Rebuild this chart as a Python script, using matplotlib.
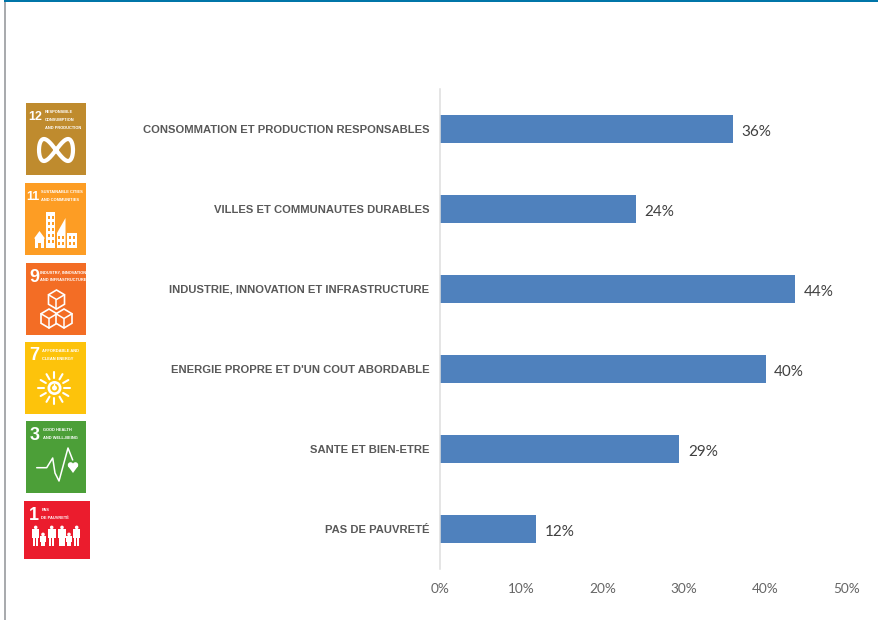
import numpy as np
import matplotlib
matplotlib.use('Agg')
import matplotlib.pyplot as plt
from matplotlib.patches import Rectangle, Polygon, Circle
from matplotlib.ticker import FuncFormatter

categories = ['PAS DE PAUVRETÉ', 'SANTE ET BIEN-ETRE', "ENERGIE PROPRE ET D'UN COUT ABORDABLE",
              'INDUSTRIE, INNOVATION ET INFRASTRUCTURE', 'VILLES ET COMMUNAUTES DURABLES',
              'CONSOMMATION ET PRODUCTION RESPONSABLES']
values = [11.8, 29.4, 40.0, 43.6, 24.1, 36.0]
value_labels = ['12%', '29%', '40%', '44%', '24%', '36%']
ticks = [0, 10, 20, 30, 40, 50]

W, H = 879, 620
fig = plt.figure(figsize=(W / 100, H / 100), dpi=100)
fig.patch.set_facecolor('white')

# chart axes, placed in pixels
ax = fig.add_axes([440 / W, 1 - 569 / H, (847 - 440) / W, (569 - 89) / H])
y = np.arange(len(categories))
ax.barh(y, values, height=0.35, color='#4F81BD')
ax.set_xlim(0, 50)
ax.set_ylim(-0.5, 5.5)
ax.set_yticks(y)
ax.set_yticklabels(categories, family='Liberation Sans', fontweight='bold', fontsize=8.15, color='#595959')
ax.set_xticks(ticks)
ax.xaxis.set_major_formatter(FuncFormatter(lambda v, p: f'{v:.0f}%'))
ax.tick_params(axis='x', length=0, pad=10, labelsize=9.8, labelcolor='#666666')
ax.tick_params(axis='y', length=0, pad=7.5)
for lab in ax.get_xticklabels():
    lab.set_family('Lato')
for s in ['top', 'right', 'bottom']:
    ax.spines[s].set_visible(False)
ax.spines['left'].set_color('#DEDEDE')
ax.spines['left'].set_linewidth(1.1)
for yy, v, t in zip(y, values, value_labels):
    ax.annotate(t, (v, yy), xytext=(6.2, -2), textcoords='offset points', va='center',
                family='Lato', fontsize=11, color='#404040')

# overlay in pixel coordinates for the frame and the SDG icons
ov = fig.add_axes([0, 0, 1, 1], zorder=5)
ov.set_xlim(0, W)
ov.set_ylim(H, 0)
ov.axis('off')
ov.patch.set_alpha(0)

ov.add_patch(Rectangle((4, 0), 2, H, color='#A9ABAE', lw=0))
ov.add_patch(Rectangle((4, 0), W - 4, 2.2, color='#0075A8', lw=0))


def icon(x0, y0, x1, y1, color, num, lines, numx, tx):
    ov.add_patch(Rectangle((x0, y0), x1 - x0, y1 - y0, color=color, lw=0))
    ov.text(numx, y0 + 14, num, color='white', family='Liberation Sans', fontweight='bold',
            fontsize=9 if len(num) > 1 else 13, ha='center', va='center')
    for i, ln in enumerate(lines):
        ov.text(tx, y0 + 9 + i * 8, ln, color='white', family='Liberation Sans', fontweight='bold',
                fontsize=2.9, ha='left', va='center')


def wline(xs, ys, lw=1.4):
    ov.plot(xs, ys, color='white', lw=lw, solid_capstyle='round', solid_joinstyle='round')


def wbox(x, y_, w, h):
    ov.add_patch(Rectangle((x, y_), w, h, color='white', lw=0))


# 12 - infinity loop
icon(26, 103, 86, 175, '#BF8B2E', '12', ['RESPONSIBLE', 'CONSUMPTION', 'AND PRODUCTION'], 35, 45)
t = np.linspace(0, 2 * np.pi, 200)
wline(56 + 17 * np.cos(t), 150 + 11 * np.sin(2 * t), lw=3)

# 11 - buildings
icon(25, 183, 86, 255, '#FD9D24', '11', ['SUSTAINABLE CITIES', 'AND COMMUNITIES'], 33, 41)
wbox(46, 212, 9, 36)
ov.add_patch(Polygon([[57, 233], [65.5, 218], [65.5, 248], [57, 248]], color='white', lw=0))
wbox(67, 233, 10, 15)
wbox(35, 238, 9, 10)
ov.add_patch(Polygon([[34, 238.5], [39.5, 231], [45, 238.5]], color='white', lw=0))
ov.add_patch(Rectangle((38, 243), 3, 5, color='#FD9D24', lw=0))
for wy in [216, 222, 228, 234, 240]:
    for wx in [48, 52]:
        ov.add_patch(Rectangle((wx, wy), 2, 3, color='#FD9D24', lw=0))
for wy in [236, 242]:
    for wx in [58.5, 62, 69, 73]:
        ov.add_patch(Rectangle((wx, wy), 2, 3, color='#FD9D24', lw=0))

# 9 - stacked cubes
icon(26, 263, 86, 335, '#F36D25', '9', ['INDUSTRY, INNOVATION', 'AND INFRASTRUCTURE'], 34.5, 40)
for cx, cy in [(56.5, 295.7), (49, 314.7), (64, 314.7)]:
    s, v = 8, 9.5
    hex_x = [cx, cx + s, cx + s, cx, cx - s, cx - s, cx]
    hex_y = [cy - v * .6, cy - v * .1, cy + v * .9, cy + v * 1.4, cy + v * .9, cy - v * .1, cy - v * .6]
    ov.add_patch(Polygon(np.c_[hex_x, hex_y], fc='#F36D25', ec='white', lw=1.2))
    wline([cx - s, cx, cx + s], [cy - v * .1, cy + v * .4, cy - v * .1], lw=1.1)
    wline([cx, cx], [cy + v * .4, cy + v * 1.4], lw=1.1)

# 7 - sun with power button
icon(25, 342, 86, 414, '#FDC30B', '7', ['AFFORDABLE AND', 'CLEAN ENERGY'], 34.5, 42.5)
cx, cy = 54.5, 388
ov.add_patch(Circle((cx, cy), 7, color='white', lw=0))
ov.add_patch(Circle((cx, cy), 3.4, fc='none', ec='#FDC30B', lw=1.3))
wline([cx, cx], [cy - 4.5, cy - 1], lw=1)
for ang in np.arange(0, 360, 30):
    a = np.deg2rad(ang)
    r0, r1 = 10, 16
    wline([cx + r0 * np.cos(a), cx + r1 * np.cos(a)], [cy + r0 * np.sin(a), cy + r1 * np.sin(a)], lw=1.5)

# 3 - heartbeat
icon(26, 421, 86, 493, '#4C9F38', '3', ['GOOD HEALTH', 'AND WELL-BEING'], 35, 43)
wline([36.7, 46.7, 52.7, 55, 59, 68, 72.7], [467.7, 467.7, 458, 473, 481, 448, 460], lw=1.1)
ov.add_patch(Circle((70.6, 465), 2.8, color='white', lw=0))
ov.add_patch(Circle((75.4, 465), 2.8, color='white', lw=0))
ov.add_patch(Polygon([[67.9, 466], [78.1, 466], [73, 473]], color='white', lw=0))

# 1 - family
icon(24, 501, 90, 559, '#EB1C2D', '1', ['PAS', 'DE PAUVRETÉ'], 33.5, 41.5)
for px, ph, hw in [(35.7, 17, 3.6), (43, 10, 2.6), (51.7, 17, 4), (62, 17, 4), (69, 10, 2.6), (76.7, 17, 3.6)]:
    base = 546
    ov.add_patch(Circle((px, base - ph - 1.6), 1.8, color='white', lw=0))
    wbox(px - hw, base - ph, 2 * hw, ph * 0.55)
    wbox(px - hw * .7, base - ph * 0.5, hw * .6, ph * 0.5)
    wbox(px + hw * .1, base - ph * 0.5, hw * .6, ph * 0.5)

fig.savefig('out.png', dpi=100)
